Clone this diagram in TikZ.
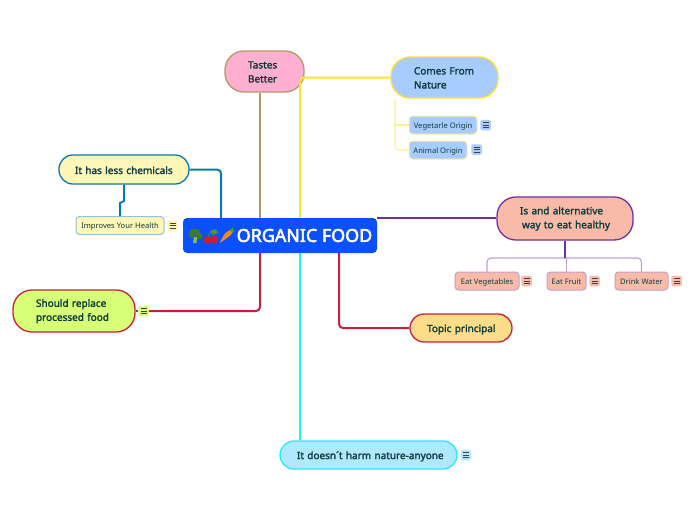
\documentclass[tikz,border=0pt]{standalone}
\usepackage{fontspec}
\setmainfont{Noto Sans}
\newfontfamily\medfont[FakeBold=2]{Noto Sans}
\newfontfamily\titlefont[FakeBold=3]{Noto Sans}
\usetikzlibrary{calc}
\definecolor{ink}{HTML}{0C3B3B}
\definecolor{blueMain}{HTML}{0A50FF}
\definecolor{tan}{HTML}{B09A6C}
\definecolor{yel}{HTML}{FFE22E}
\definecolor{yelL}{HTML}{FFEE99}
\definecolor{pur}{HTML}{7030A0}
\definecolor{purL}{HTML}{BFA0D4}
\definecolor{teal}{HTML}{0A78B0}
\definecolor{crim}{HTML}{C8203C}
\definecolor{cyn}{HTML}{22EEF2}
\definecolor{fPink}{HTML}{FFB0D0}
\definecolor{fBlue}{HTML}{A8CCFF}
\definecolor{fSalmon}{HTML}{F9BBA8}
\definecolor{fCream}{HTML}{FFF6B8}
\definecolor{fLime}{HTML}{D8FF78}
\definecolor{fOrange}{HTML}{FFDD88}
\definecolor{fSky}{HTML}{B0E8FF}
\definecolor{broc}{HTML}{3F7A2A}
\definecolor{brocS}{HTML}{8CBF4A}
\definecolor{cherry}{HTML}{D01C2C}
\definecolor{leaf}{HTML}{4C9A2A}
\definecolor{carrot}{HTML}{F28A1E}
\tikzset{
  x=1pt,y=-1pt,
  topic/.style={draw,line width=1.3pt,rounded corners=14pt,inner sep=0pt,text=ink,
    font=\medfont\fontsize{10}{14}\selectfont,align=left},
  pill/.style={rounded corners=19pt},
  sub/.style={draw,line width=1pt,rounded corners=3.5pt,inner sep=0pt,text=ink,
    font=\fontsize{7.6}{10}\selectfont,align=center,minimum height=18pt,text height=7.8pt,text depth=1.2pt},
  noteicon/.style={fill=#1,rounded corners=2pt,minimum width=10.5pt,minimum height=10.5pt,inner sep=0pt,
    path picture={\draw[black!75,line width=.7pt]
      ($(path picture bounding box.center)+(-3,-2.4)$)--+(6,0)
      ($(path picture bounding box.center)+(-3,0)$)--+(6,0)
      ($(path picture bounding box.center)+(-3,2.4)$)--+(6,0);}},
  branch/.style={line width=2pt,rounded corners=4pt},
  twig/.style={line width=1.2pt,rounded corners=4pt}
}
\newcommand{\boxnode}[8]{% name, x1,y1,x2,y2, style, strut height, text
  \node[topic,#6,text width=#4pt-#2pt,minimum height=#5pt-#3pt] (#1) at ({(#2+#4)/2},{(#3+#5)/2}) {\rule{0pt}{#7pt}#8};}
\begin{document}
\begin{tikzpicture}
\useasboundingbox (0,0) rectangle (696,520);
\fill[white] (0,0) rectangle (696,520);

\node[inner sep=0pt,fill=blueMain,rounded corners=4pt,minimum width=194pt,minimum height=35pt] (main) at (280,235.5) {};
\node[anchor=west,inner sep=0pt,text=white,font=\titlefont\fontsize{17.9}{20}\selectfont] (title) at (236.5,235.5) {ORGANIC FOOD};

% broccoli
\fill[brocS] (194,237) -- (197,237) -- (196.5,243) -- (193,243) -- cycle;
\fill[broc] (191.5,235) circle (3.2) (196,232.5) circle (3.8) (199.5,236) circle (3.2) (193,231.5) circle (2.8);
% cherries
\draw[leaf,line width=.7pt] (208,237) -- (211,231) -- (214,237);
\fill[leaf] (211,231) .. controls (214,228) and (217,229) .. (218,233) .. controls (215,235) and (212,234) .. (211,231);
\fill[cherry] (207.5,240) circle (3.9) (214,239.5) circle (3.9);
% carrot
\fill[carrot] (233,230.5) .. controls (230,229) and (226,232) .. (224,235) -- (219.5,243) -- (227,238) .. controls (230,236) and (233,233) .. (233,230.5);
\fill[leaf] (230,230) -- (233.5,226.5) -- (233,230) -- (235,230.5) -- (233,233) -- cycle;

\boxnode{tastes}{225}{51}{304}{92}{fill=fPink,draw=tan,pill}{8}{\hspace*{23pt}Tastes\\\hspace*{23pt}Better}
\boxnode{comes}{391}{57}{498}{98}{fill=fBlue,draw=yel,pill}{8}{\hspace*{23pt}Comes From\\\hspace*{23pt}Nature}
\boxnode{alt}{497}{197}{633}{240}{fill=fSalmon,draw=pur,pill}{8}{\hspace*{23pt}Is and alternative\\\hspace*{25pt}way to eat healthy}
\boxnode{less}{59}{155}{189}{184}{fill=fCream,draw=teal}{9}{\hspace*{16pt}It has less chemicals}
\boxnode{should}{13}{290}{135}{332}{fill=fLime,draw=crim,pill}{8}{\hspace*{23pt}Should replace\\\hspace*{23pt}processed food}
\boxnode{princ}{410}{314}{512}{342}{fill=fOrange,draw=crim}{10.5}{\hspace*{17pt}Topic principal}
\boxnode{harm}{280}{441}{457}{469}{fill=fSky,draw=cyn}{10.5}{\hspace*{17pt}It doesn´t harm nature-anyone}

\node[sub,fill=fBlue,draw=yelL,minimum width=68pt] (veg) at (443,125) {Vegetarle Origin};
\node[sub,fill=fBlue,draw=yelL,minimum width=58pt] (ani) at (438,150) {Animal Origin};
\node[sub,fill=fSalmon,draw=purL,minimum width=64pt] (eatv) at (487,281) {Eat Vegetables};
\node[sub,fill=fSalmon,draw=purL,minimum width=39pt] (eatf) at (566.5,281) {Eat Fruit};
\node[sub,fill=fSalmon,draw=purL,minimum width=53pt] (drink) at (641.5,281) {Drink Water};
\node[sub,fill=fCream,draw=teal!45,minimum width=88pt] (impr) at (120,225.5) {Improves Your Health};

\node[noteicon=fBlue] (n1) at (485.5,125) {};
\node[noteicon=fBlue] (n2) at (476.5,149.5) {};
\node[noteicon=fSalmon] (n3) at (526.5,281) {};
\node[noteicon=fSalmon] (n4) at (594.5,281) {};
\node[noteicon=fSalmon] (n5) at (676.5,281) {};
\node[noteicon=fCream] (n6) at (172.5,225.5) {};
\node[noteicon=fLime] (n7) at (143.5,311) {};
\node[noteicon=fSky] (n8) at (466,455) {};

% main branches
\draw[branch,tan] (tastes.south -| 260,0) -- (main.north -| 260,0);
\draw[branch,yel] (main.north -| 300,0) |- (comes.west);
\draw[branch,pur] (main.east |- 0,218) -- (alt.west |- 0,218);
\draw[branch,teal] (less.east) -| (main.north -| 221,0);
\draw[branch,crim] (main.south -| 260,0) |- (n7.east);
\draw[line width=1.2pt,crim] (should.east) -- (n7.west);
\draw[branch,crim] (main.south -| 339,0) |- (princ.west);
\draw[branch,cyn] (main.south -| 300,0) -- (harm.north -| 300,0);

% sub-branches
\coordinate (jogA) at (124,201);
\coordinate (jogB) at (120,203);
\coordinate (purMid) at (565,258);
\coordinate (yelTop) at (395,100);
\coordinate (yelMid) at (395,125);
\draw[twig,yelL] (yelTop) |- (ani.west);
\draw[twig,yelL] (yelMid) -- (veg.west);
\draw[twig,purL] (eatv.north) |- (purMid) -| (drink.north);
\draw[line width=1.2pt,purL] (eatf.north |- purMid) -- (eatf.north);
\draw[line width=2pt,pur] (alt.south -| purMid) -- (purMid);
\draw[line width=2pt,teal] (less.south -| jogA) -- (jogA) -- (jogB) -- (impr.north -| jogB);
\end{tikzpicture}
\end{document}
